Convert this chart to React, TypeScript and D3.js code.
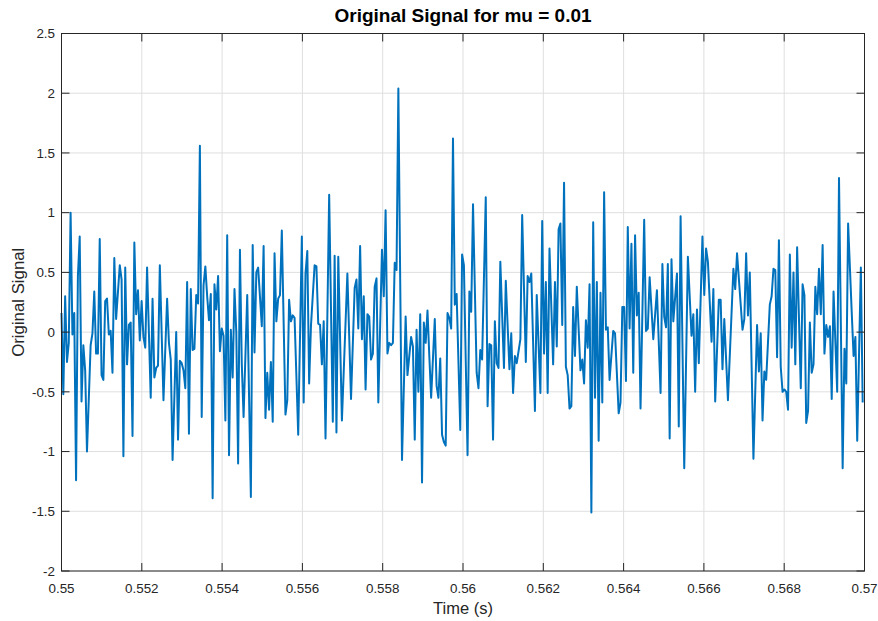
import React from "react";
import * as d3 from "d3";

const sampleRate = 22050;
const startTime = 0.55;

// sample index (relative to t = 0.55 s) of each vertex
const sampleIndex = [
  0,1,2,3,4,5,6,7,8,9,10,11,12,13,14,16,17,18,19,20,21,22,23,24,25,26,27,28,29,30,
  32,33,34,35,36,37,38,39,40,41,42,43,44,45,46,47,49,50,51,52,53,54,56,58,59,60,61,63,64,65,
  66,67,68,69,70,71,72,73,74,75,76,77,78,79,80,81,82,83,84,85,86,87,88,89,90,91,92,93,94,95,
  96,97,98,99,100,102,104,105,106,107,108,110,111,112,113,114,115,116,117,118,119,120,121,123,124,125,126,127,128,130,
  132,133,134,135,136,137,139,140,141,142,143,144,145,147,149,150,151,152,154,157,159,161,162,163,164,165,166,167,168,169,
  170,171,172,173,174,176,177,178,179,180,181,182,183,184,185,186,187,189,190,192,193,194,195,196,197,198,199,200,201,202,
  203,205,206,207,208,209,210,211,212,213,214,215,216,217,219,220,221,223,224,225,226,228,229,230,231,233,234,235,236,237,
  238,239,240,241,243,244,246,247,248,249,250,252,253,255,256,257,258,260,261,263,264,265,266,267,268,270,271,272,273,274,
  275,276,277,278,279,280,281,282,283,285,286,287,288,289,290,291,292,293,294,295,296,297,298,299,300,301,303,304,306,307,
  308,309,310,311,312,313,314,315,316,317,318,320,321,322,323,325,327,329,330,331,332,333,334,335,336,338,339,340,342,344,
  346,347,348,349,350,352,353,354,355,357,358,359,361,362,363,364,366,369,370,371,374,375,376,377,378,380,382,383,384,385,
  386,387,389,390,391,392,393,394,395,396,397,398,399,400,401,402,403,404,406,407,408,409,410,411,412,413,414,415,416,417,
  418,419,420,421,422,423,424,426,427,429,430,431,432,434,435,436,437,439,440,
];

const signal = [
  0.16,-0.52,0.30,-0.25,-0.09,1.00,-0.02,0.16,-1.24,0.47,0.80,-0.58,-0.11,-0.32,-1.00,-0.11,-0.01,0.34,-0.18,-0.18,0.78,-0.36,-0.40,0.26,0.28,-0.02,0.01,-0.34,0.62,0.11,
  0.56,0.44,-1.04,0.54,-0.27,0.06,0.08,-0.87,0.75,0.15,0.35,-0.07,0.26,-0.04,-0.13,0.54,-0.55,0.28,-0.38,-0.30,-0.28,0.56,-0.57,0.28,-0.09,-0.23,-1.07,0.00,-0.90,-0.24,
  -0.26,-0.32,-0.47,0.42,-0.85,0.36,-0.15,-0.14,0.31,0.24,1.56,-0.71,0.39,0.55,0.30,0.10,0.32,-1.39,0.40,0.19,0.47,-0.16,0.03,-0.03,-0.74,0.81,-1.03,0.02,-0.38,0.36,
  0.00,-1.10,0.69,-0.26,-0.71,0.31,-1.38,0.73,-0.17,0.50,0.54,0.05,0.72,-0.72,-0.34,-0.65,-0.25,-0.75,0.66,0.09,0.28,0.31,0.85,-0.69,-0.57,0.27,0.09,0.14,0.12,-0.86,
  0.80,-0.59,0.49,0.68,-0.43,0.05,0.56,0.55,0.07,0.06,-0.27,0.09,-0.89,1.15,-0.75,0.64,-0.84,0.63,-0.74,0.49,-0.56,0.37,0.44,0.03,0.72,-0.06,0.30,-0.48,0.15,0.13,
  -0.23,-0.18,0.38,0.45,-0.59,0.69,0.30,1.02,-0.18,-0.09,-0.11,-0.09,0.58,0.52,2.04,0.45,-1.07,0.13,-0.36,-0.04,-0.12,-0.90,0.02,-0.50,0.15,-1.26,0.08,-0.09,0.18,-0.20,
  -0.55,0.11,-0.45,-0.55,-0.22,-0.86,-0.92,-0.95,0.16,0.12,0.03,1.62,0.23,0.32,-0.82,0.65,0.56,-1.03,0.34,0.17,1.07,-0.34,-0.47,-0.15,-0.23,1.13,-0.62,-0.10,-0.11,-0.90,
  0.09,-0.26,-0.30,0.59,-0.30,0.43,-0.31,-0.01,-0.51,-0.20,-0.26,-0.06,0.98,-0.25,0.47,0.42,0.49,-0.66,0.31,-0.51,0.93,-0.18,0.42,-0.51,0.70,-0.27,0.42,-0.12,0.86,0.91,
  0.06,1.25,-0.29,-0.36,-0.64,-0.62,0.21,-0.20,0.38,-0.32,-0.23,-0.43,0.10,-0.13,0.40,-1.51,0.92,-0.55,0.42,-0.91,0.33,-0.59,1.17,0.02,0.04,-0.40,0.01,-0.01,-0.68,-0.59,
  0.21,0.21,-0.41,0.88,0.03,0.74,-0.34,0.81,0.14,0.33,-0.64,0.94,0.01,0.03,0.46,-0.06,0.35,-0.51,0.57,0.13,0.04,0.57,-0.89,0.61,0.09,0.49,-0.79,0.97,-1.14,0.63,
  -0.03,0.15,-0.50,0.19,-0.26,0.80,0.31,0.70,0.59,-0.08,0.36,-0.58,0.27,0.27,-0.31,0.11,-0.57,0.53,0.36,0.66,0.02,0.11,0.66,0.14,0.50,-1.06,0.06,-0.33,-0.01,-0.74,
  -0.33,-0.40,0.23,0.30,0.53,0.52,-0.21,0.77,-0.29,-0.50,-0.48,-0.50,-0.65,0.65,-0.13,0.50,-0.27,0.71,-0.47,0.40,0.31,-0.76,-0.66,0.08,-0.34,-0.27,0.38,0.15,0.53,0.15,
  0.73,-0.18,0.06,-0.04,0.05,-0.56,0.34,-0.50,1.29,-1.14,-0.14,-0.43,0.91,0.16,-0.20,-0.04,-0.91,0.54,-0.59,
];

const xTicks = [0.55, 0.552, 0.554, 0.556, 0.558, 0.56, 0.562, 0.564, 0.566, 0.568, 0.57];
const xTickLabels = ["0.55", "0.552", "0.554", "0.556", "0.558", "0.56", "0.562", "0.564", "0.566", "0.568", "0.57"];
const yTicks = [-2, -1.5, -1, -0.5, 0, 0.5, 1, 1.5, 2, 2.5];
const yTickLabels = ["-2", "-1.5", "-1", "-0.5", "0", "0.5", "1", "1.5", "2", "2.5"];

const W = 878;
const H = 621;
const L = 61.5, R = 864.5, T = 33.5, B = 571;
const FONT = "'Liberation Sans', Arial, Helvetica, sans-serif";
const AX = "#262626";

export default function App() {
  const x = d3.scaleLinear().domain([0.55, 0.57]).range([L, R]);
  const y = d3.scaleLinear().domain([-2, 2.5]).range([B, T]);
  const pts = sampleIndex.map((n, i) => ({ t: startTime + n / sampleRate, v: signal[i] }));
  const line = d3
    .line<{ t: number; v: number }>()
    .x((d) => x(d.t))
    .y((d) => y(d.v));
  const tk = 8;
  return (
    <svg
      width={W}
      height={H}
      style={{ position: "absolute", left: 0, top: 0, background: "#fff" }}
      fontFamily={FONT}
    >
      <rect x={0} y={0} width={W} height={H} fill="#fff" />
      {/* grid */}
      {xTicks.map((t, i) => (
        <line key={"gx" + i} x1={x(t)} x2={x(t)} y1={T} y2={B} stroke="#dfdfdf" strokeWidth={1} />
      ))}
      {yTicks.map((t, i) => (
        <line key={"gy" + i} x1={L} x2={R} y1={y(t)} y2={y(t)} stroke="#dfdfdf" strokeWidth={1} />
      ))}
      {/* signal */}
      <path d={line(pts) || ""} fill="none" stroke="#0072BD" strokeWidth={2} strokeLinejoin="round" />
      {/* box */}
      <rect x={L} y={T} width={R - L} height={B - T} fill="none" stroke={AX} strokeWidth={1} />
      {/* ticks */}
      {xTicks.map((t, i) => (
        <g key={"tx" + i}>
          <line x1={x(t)} x2={x(t)} y1={B} y2={B - tk} stroke={AX} />
          <line x1={x(t)} x2={x(t)} y1={T} y2={T + tk} stroke={AX} />
          <text x={x(t)} y={593} textAnchor="middle" fontSize={13.4} fill={AX}>
            {xTickLabels[i]}
          </text>
        </g>
      ))}
      {yTicks.map((t, i) => (
        <g key={"ty" + i}>
          <line x1={L} x2={L + tk} y1={y(t)} y2={y(t)} stroke={AX} />
          <line x1={R} x2={R - tk} y1={y(t)} y2={y(t)} stroke={AX} />
          <text x={55} y={y(t) + 4.8} textAnchor="end" fontSize={13.4} fill={AX}>
            {yTickLabels[i]}
          </text>
        </g>
      ))}
      {/* labels */}
      <text x={(L + R) / 2} y={22} textAnchor="middle" fontSize={19} fontWeight="bold" fill="#000">
        Original Signal for mu = 0.01
      </text>
      <text x={(L + R) / 2} y={614} textAnchor="middle" fontSize={16.5} fill={AX}>
        Time (s)
      </text>
      <text
        transform={`translate(24, ${(T + B) / 2}) rotate(-90)`}
        textAnchor="middle"
        fontSize={16.8}
        fill={AX}
      >
        Original Signal
      </text>
    </svg>
  );
}
